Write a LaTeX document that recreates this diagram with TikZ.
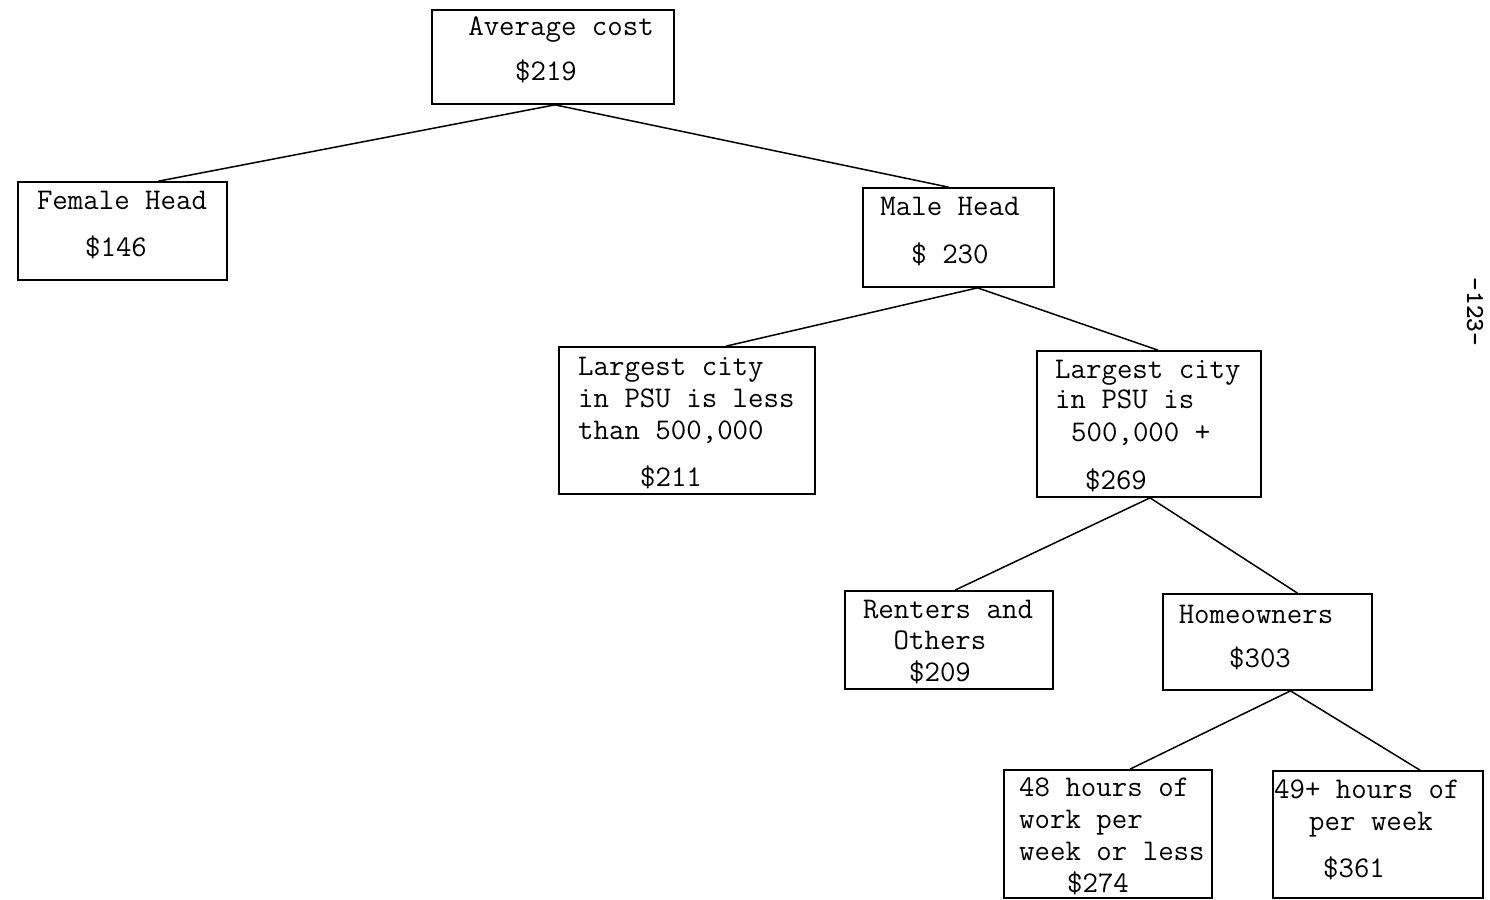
\documentclass[tikz,border=0pt]{standalone}
\usepackage{fontspec}
\usetikzlibrary{calc}
\begin{document}
\begin{tikzpicture}[x=1pt,y=-1pt,
  box/.style={draw,line width=1.7pt,rectangle,inner sep=0pt},
  lbl/.style={font=\fontsize{30}{34}\selectfont\ttfamily,inner sep=0pt,anchor=base},
  lbll/.style={lbl,anchor=base west},
  link/.style={line width=1.5pt}]
\useasboundingbox (0,0) rectangle (1490,899);
% boxes: centres and sizes in page units
\node[box,minimum width=242pt,minimum height=94pt] (avg) at (553,57) {};
\node[box,minimum width=209pt,minimum height=98pt] (fem) at (122.5,231) {};
\node[box,minimum width=191pt,minimum height=99pt] (male) at (958.5,237.5) {};
\node[box,minimum width=256pt,minimum height=147pt] (less) at (687,420.5) {};
\node[box,minimum width=224pt,minimum height=146pt] (big) at (1149,424) {};
\node[box,minimum width=208pt,minimum height=98pt] (rent) at (949,640) {};
\node[box,minimum width=209pt,minimum height=96pt] (home) at (1267.5,642) {};
\node[box,minimum width=208pt,minimum height=128pt] (low) at (1108,834) {};
\node[box,minimum width=210pt,minimum height=127pt] (high) at (1378,834.5) {};
% labels
\node[lbl] (t1) at (561,36) {Average cost};
\node[lbl] (t2) at (546,81) {\$219};
\node[lbl] (t3) at (122,209) {Female Head};
\node[lbl] (t4) at (116,256) {\$146};
\node[lbl] (t5) at (950,215) {Male Head};
\node[lbl] (t6) at (950,263) {\$ 230};
\node[lbll] (t7) at (578,375) {Largest city};
\node[lbll] (t8) at (578,407) {in PSU is less};
\node[lbll] (t9) at (578,439) {than 500,000};
\node[lbl] (t10) at (671,486) {\$211};
\node[lbll] (t11) at (1055,378) {Largest city};
\node[lbll] (t12) at (1055,408) {in PSU is};
\node[lbll] (t13) at (1071,441) {500,000 +};
\node[lbl] (t14) at (1116,489) {\$269};
\node[lbl] (t15) at (948,618) {Renters and};
\node[lbl] (t16) at (940,649) {Others};
\node[lbl] (t17) at (940,681) {\$209};
\node[lbl] (t18) at (1256,623) {Homeowners};
\node[lbl] (t19) at (1260,667) {\$303};
\node[lbll] (t20) at (1019,796) {48 hours of};
\node[lbll] (t21) at (1019,828) {work per};
\node[lbll] (t22) at (1019,860) {week or less};
\node[lbl] (t23) at (1098,892) {\$274};
\node[lbll] (t24) at (1274,798) {49+ hours of};
\node[lbl] (t25) at (1371,830) {per week};
\node[lbl] (t26) at (1354,877) {\$361};
\node[font=\fontsize{26}{30}\selectfont\ttfamily\bfseries,rotate=-90,inner sep=0pt] (pg) at (1475,312) {-123-};
% connectors
\draw[link] ($(avg.south)+(2,0)$) -- ($(fem.north)+(36,0)$);
\draw[link] ($(avg.south)+(2,0)$) -- ($(male.north)+(-10,0)$);
\draw[link] ($(male.south)+(19,0)$) -- ($(less.north)+(39,0)$);
\draw[link] ($(male.south)+(19,0)$) -- ($(big.north)+(9,0)$);
\draw[link] ($(big.south)+(1,0)$) -- ($(rent.north)+(6,0)$);
\draw[link] ($(big.south)+(1,0)$) -- ($(home.north)+(30,0)$);
\draw[link] ($(home.south)+(23,0)$) -- ($(low.north)+(22,0)$);
\draw[link] ($(home.south)+(23,0)$) -- ($(high.north)+(42,0)$);
\end{tikzpicture}
\end{document}
